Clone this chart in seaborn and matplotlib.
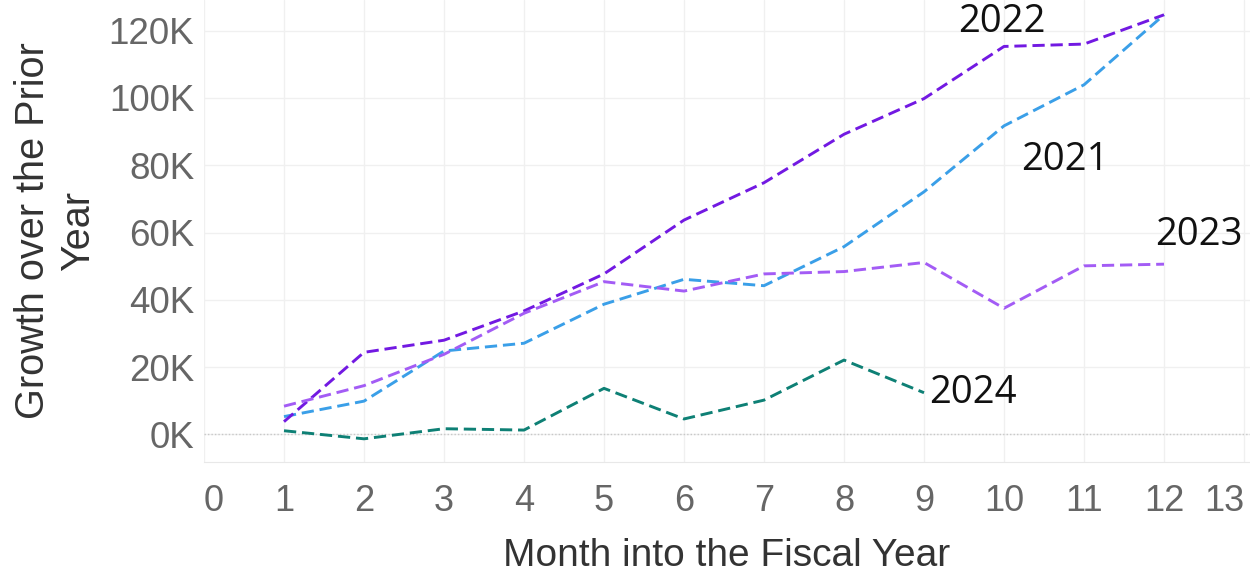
import pandas as pd
import matplotlib
matplotlib.use("Agg")
import matplotlib.pyplot as plt
import seaborn as sns
from matplotlib.ticker import FuncFormatter

# values (in thousands)
months = list(range(1, 13))
growth_2021 = [5.3, 9.9, 24.8, 27.1, 38.7, 46.1, 44.2, 55.8, 72.1, 91.7, 103.9, 124.7]
growth_2022 = [3.8, 24.4, 28.0, 36.7, 47.7, 63.7, 74.8, 89.2, 99.8, 115.3, 116.0, 124.7]
growth_2023 = [8.4, 14.5, 23.8, 36.0, 45.4, 42.6, 47.7, 48.4, 51.1, 37.5, 50.1, 50.6]
growth_2024 = [1.1, -1.3, 1.7, 1.3, 13.7, 4.6, 10.2, 22.1, 12.4]

years = ["2021", "2022", "2023", "2024"]
colors = {"2021": "#3a9fe8", "2022": "#7219e2", "2023": "#a35cf5", "2024": "#0e8075"}
x_ticks = list(range(0, 14))
y_ticks = [0, 20000, 40000, 60000, 80000, 100000, 120000]

rows = []
for yr, vals in zip(years, [growth_2021, growth_2022, growth_2023, growth_2024]):
    for m, v in zip(months, vals):
        rows.append({"Month": m, "Growth": v * 1000, "Year": yr})
df = pd.DataFrame(rows)

sns.set_style("white")
plt.rcParams["font.family"] = ["Liberation Sans", "DejaVu Sans"]

fig = plt.figure(figsize=(12.5, 5.73), dpi=100)
ax = fig.add_axes([204 / 1250, (573 - 461.7) / 573, (1250 - 204) / 1250, 461.7 / 573])

sns.lineplot(data=df, x="Month", y="Growth", hue="Year", palette=colors,
             linewidth=2.1, legend=False, ax=ax)
for line in ax.get_lines():
    line.set_dashes((4.2, 2.0))

ax.set_xlim(0, 13.075)
ax.set_ylim(-8100, 129100)
ax.set_xticks(x_ticks)
ax.set_yticks(y_ticks)
ax.yaxis.set_major_formatter(FuncFormatter(lambda v, p: f"{v / 1000:.0f}K"))

ax.grid(True, color="#f0f0f0", linewidth=1)
ax.axhline(0, color="#c8c8c8", linewidth=1, linestyle=(0, (1, 1.5)), zorder=1)
for s in ["top", "right", "left"]:
    ax.spines[s].set_visible(False)
ax.spines["bottom"].set_color("#e8e8e8")

ax.tick_params(axis="y", length=0, pad=7, labelsize=26.5, labelcolor="#666666")
ax.tick_params(axis="x", length=4, color="#e8e8e8", pad=12, labelsize=26, labelcolor="#666666")
xl = ax.get_xticklabels()
xl[0].set_ha("left")
xl[-1].set_ha("right")

ax.set_xlabel("Month into the Fiscal Year", fontsize=28, color="#333333", labelpad=14)
ax.set_ylabel("Growth over the Prior\nYear", fontsize=28.5, color="#333333",
              labelpad=8, linespacing=1.25)

label_pos = {"2022": (9.43, 122600), "2021": (10.21, 81500),
             "2023": (11.89, 59200), "2024": (9.06, 12300)}
for yr, (x, y) in label_pos.items():
    ax.text(x, y, yr, fontsize=27.5, color="#111111", va="center", ha="left",
            family=["Open Sans", "DejaVu Sans"], clip_on=False)

fig.savefig("out.png", dpi=100)
